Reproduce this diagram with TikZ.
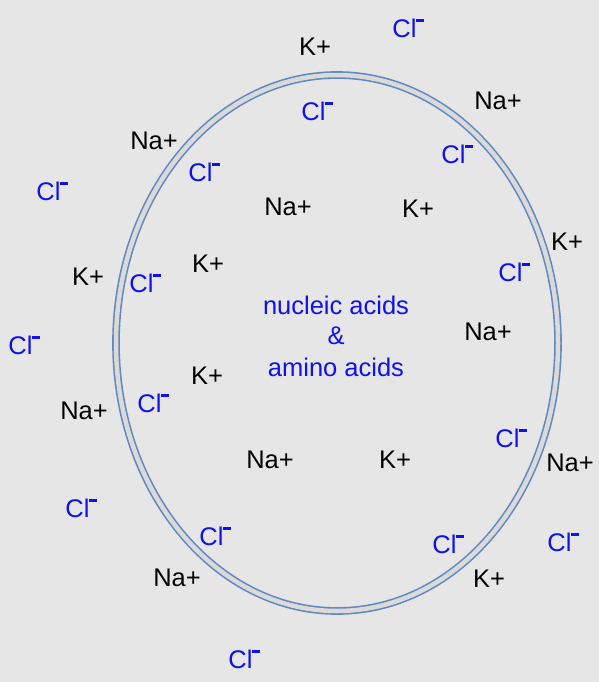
\documentclass[tikz,border=0pt]{standalone}
\usepackage{fontspec}
\setmainfont{Liberation Sans}
\usetikzlibrary{shapes.geometric}
\definecolor{bg}{HTML}{E6E6E6}
\definecolor{memb}{HTML}{6289BF}
\definecolor{gapc}{HTML}{DADADA}
\definecolor{ionblue}{HTML}{1010F0}
\newcommand{\chl}{Cl\raisebox{0.6em}{\rule{0.28em}{0.13em}}}
\tikzset{
  ion/.style={font=\fontsize{25.5}{30}\selectfont, text=black, inner sep=0pt},
  anion/.style={ion, text=ionblue},
  label/.style={font=\fontsize{25.5}{30}\selectfont, text=ionblue, inner sep=0pt},
  membrane/.style={ellipse, draw=memb, line width=1.6pt, double=gapc, double distance=4.5pt, minimum width=442pt, minimum height=536pt, inner sep=0pt}
}
\begin{document}
\begin{tikzpicture}[x=1pt,y=-1pt]
\useasboundingbox[fill=bg] (0,0) rectangle (599,682);
\node[membrane] (cell) at (337,343) {};
% cations
\node[ion] (k1) at (315,47) {K+};
\node[ion] (n1) at (498,101) {Na+};
\node[ion] (n2) at (154,141) {Na+};
\node[ion] (n3) at (288,207) {Na+};
\node[ion] (k2) at (418,209) {K+};
\node[ion] (k3) at (567,242) {K+};
\node[ion] (k4) at (88,277) {K+};
\node[ion] (k5) at (208,264) {K+};
\node[ion] (n4) at (488,332) {Na+};
\node[ion] (k6) at (207,376) {K+};
\node[ion] (n5) at (84,411) {Na+};
\node[ion] (n6) at (270,460) {Na+};
\node[ion] (k7) at (395,460) {K+};
\node[ion] (n7) at (570,463) {Na+};
\node[ion] (n8) at (177,578) {Na+};
\node[ion] (k8) at (489,579) {K+};
% chloride
\node[anion] (c1) at (408,28) {\chl};
\node[anion] (c2) at (317,111) {\chl};
\node[anion] (c3) at (457,154) {\chl};
\node[anion] (c4) at (204,172) {\chl};
\node[anion] (c5) at (52,191) {\chl};
\node[anion] (c6) at (145,283) {\chl};
\node[anion] (c7) at (514,272) {\chl};
\node[anion] (c8) at (24,345) {\chl};
\node[anion] (c9) at (153,403) {\chl};
\node[anion] (c10) at (511,438) {\chl};
\node[anion] (c11) at (81,508) {\chl};
\node[anion] (c12) at (215,536) {\chl};
\node[anion] (c13) at (448,544) {\chl};
\node[anion] (c14) at (563,542) {\chl};
\node[anion] (c15) at (244,659) {\chl};
% label
\node[label] (l1) at (336,305) {nucleic acids};
\node[label] (l2) at (336,336) {\&};
\node[label] (l3) at (336,367) {amino acids};
\end{tikzpicture}
\end{document}
